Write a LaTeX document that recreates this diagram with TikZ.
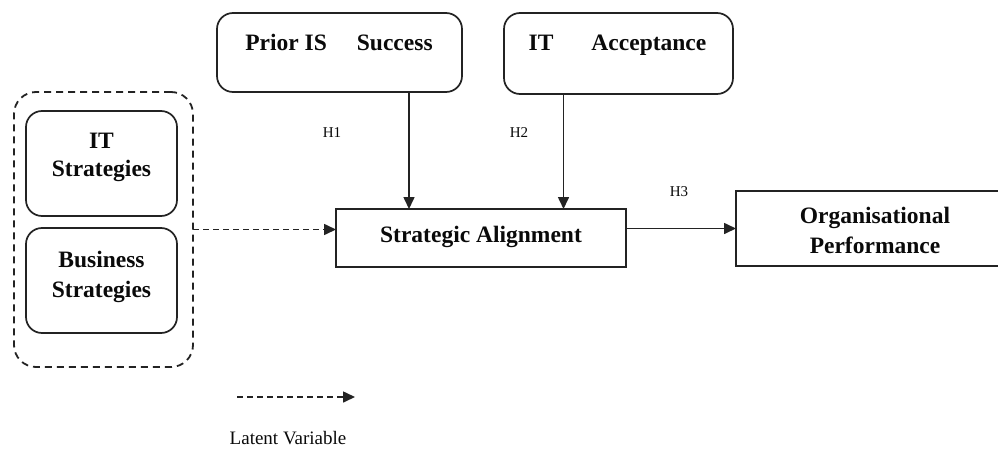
\documentclass[tikz,border=0pt]{standalone}
\usepackage{fontspec}
\setmainfont{Liberation Serif}
\usetikzlibrary{arrows.meta}
\definecolor{ln}{RGB}{35,35,35}
\definecolor{tx}{RGB}{10,10,10}
\begin{document}
\begin{tikzpicture}[x=1pt,y=-1pt,
  box/.style={draw=ln,line width=1.7pt,inner sep=0pt,outer sep=0pt},
  rbox/.style={box,rounded corners=16pt},
  big/.style={font=\fontsize{23.5}{28}\selectfont\bfseries,text=tx,inner sep=0pt,anchor=base},
  small/.style={font=\fontsize{15}{18}\selectfont,text=tx,inner sep=0pt,anchor=base},
  arr/.style={draw=ln,line width=1.6pt,-{Triangle[length=12pt,width=11pt]}},
  darr/.style={arr,dash pattern=on 6pt off 4pt}]
\useasboundingbox (0,0) rectangle (998,455);
\clip (0,0) rectangle (998,455);
\fill[white] (0,0) rectangle (998,455);
% boxes
\node[box,line width=1.8pt,rounded corners=22pt,dash pattern=on 7pt off 5pt,minimum width=179pt,minimum height=275pt] (outer) at (103.5,229.5) {};
\node[rbox,minimum width=151pt,minimum height=105pt] (its) at (101.5,163.5) {};
\node[rbox,minimum width=151pt,minimum height=105pt] (bus) at (101.5,280.5) {};
\node[rbox,minimum width=245pt,minimum height=79pt] (prior) at (339.5,52.5) {};
\node[rbox,minimum width=229pt,minimum height=81pt] (itacc) at (618.5,53.5) {};
\node[box,minimum width=290pt,minimum height=58pt] (strat) at (481,238) {};
\node[box,minimum width=278pt,minimum height=75pt] (org) at (875,228.5) {};
% texts
\node[big] (itsA) at (101.5,148) {IT};
\node[big] (itsB) at (101.5,176) {Strategies};
\node[big] (busA) at (101.5,267) {Business};
\node[big] (busB) at (101.5,297) {Strategies};
\node[big] (priorT) at (339,50) {Prior IS\hspace{30pt}Success};
\node[big] (itaccT) at (617.5,50) {IT\hspace{38pt}Acceptance};
\node[big] (stratT) at (481,242) {Strategic Alignment};
\node[big] (orgA) at (875,223) {Organisational};
\node[big] (orgB) at (875,253) {Performance};
\node[small] (h1) at (332,137) {H1};
\node[small] (h2) at (519,137) {H2};
\node[small] (h3) at (679,196) {H3};
\node[font=\fontsize{19}{22}\selectfont,text=tx,inner sep=0pt,anchor=base] (latent) at (288,444) {Latent Variable};
% connectors
\draw[arr] ([xshift=69.5pt]prior.south) -- ([xshift=69.5pt]prior.south |- strat.north);
\draw[arr] ([xshift=-55pt]itacc.south) -- ([xshift=-55pt]itacc.south |- strat.north);
\draw[darr] (outer.east) -- (outer.east -| strat.west);
\draw[arr] (org.west -| strat.east) -- (org.west);
\coordinate (l1) at (237,397);
\coordinate (l2) at (355,397);
\draw[darr] (l1) -- (l2);
\end{tikzpicture}
\end{document}
